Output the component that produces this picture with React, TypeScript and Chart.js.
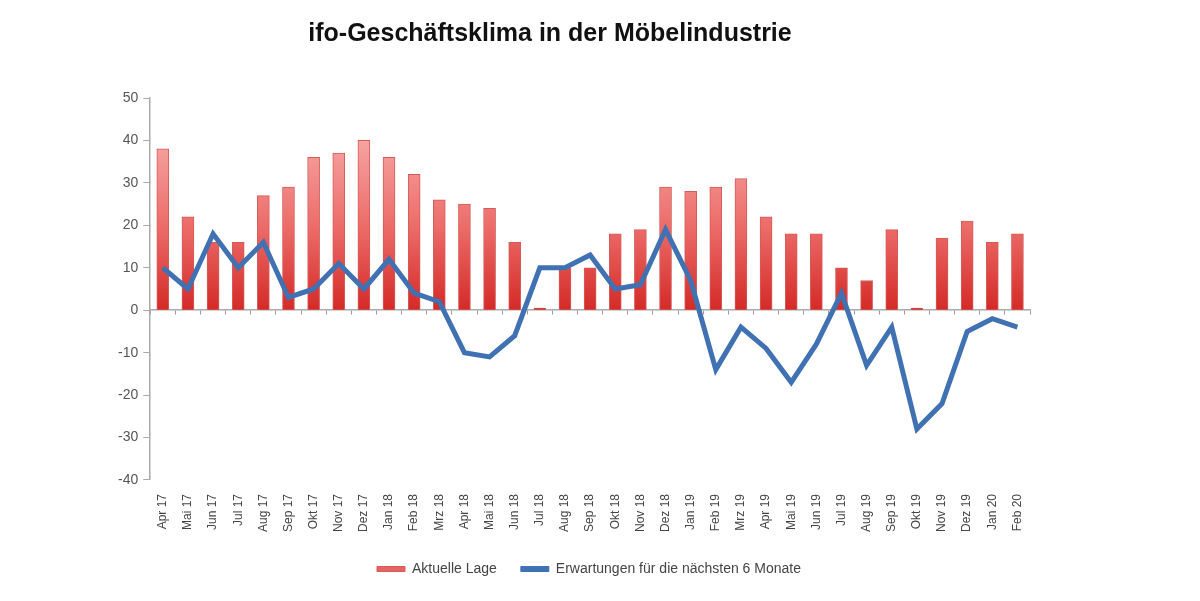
import { useEffect, useRef } from "react"
import { Chart, registerables } from "chart.js"

Chart.register(...registerables)

const months = [
  "Apr 17", "Mai 17", "Jun 17", "Jul 17", "Aug 17", "Sep 17", "Okt 17", "Nov 17", "Dez 17",
  "Jan 18", "Feb 18", "Mrz 18", "Apr 18", "Mai 18", "Jun 18", "Jul 18", "Aug 18", "Sep 18",
  "Okt 18", "Nov 18", "Dez 18", "Jan 19", "Feb 19", "Mrz 19", "Apr 19", "Mai 19", "Jun 19",
  "Jul 19", "Aug 19", "Sep 19", "Okt 19", "Nov 19", "Dez 19", "Jan 20", "Feb 20",
]

const aktuelleLage = [
  38, 22, 16, 16, 27, 29, 36, 37, 40,
  36, 32, 26, 25, 24, 16, 0.5, 10, 10,
  18, 19, 29, 28, 29, 31, 22, 18, 18,
  10, 7, 19, 0.5, 17, 21, 16, 18,
]

const erwartungen = [
  10, 5, 18, 10, 16, 3, 5, 11, 5,
  12, 4, 2, -10, -11, -6, 10, 10, 13,
  5, 6, 19, 7, -14, -4, -9, -17, -8,
  4, -13, -4, -28, -22, -5, -2, -4,
]

const yMin = -40
const yMax = 50
const yStep = 10

const font = "'Liberation Sans', Arial, sans-serif"

export default function App() {
  const chartRef = useRef<HTMLCanvasElement>(null)
  const chartInstance = useRef<Chart | null>(null)

  useEffect(() => {
    document.body.style.margin = "0"
    if (!chartRef.current) return
    if (chartInstance.current) chartInstance.current.destroy()
    const ctx = chartRef.current.getContext("2d")
    if (!ctx) return

    chartInstance.current = new Chart(ctx, {
      data: {
        labels: months,
        datasets: [
          {
            type: "line",
            label: "Erwartungen für die nächsten 6 Monate",
            data: erwartungen,
            borderColor: "#3f71b3",
            backgroundColor: "#3f71b3",
            borderWidth: 5,
            pointRadius: 0,
            tension: 0,
            order: 0,
          },
          {
            type: "bar",
            label: "Aktuelle Lage",
            data: aktuelleLage,
            backgroundColor: (c: any) => {
              const chart = c.chart
              if (!chart.chartArea) return "#e04a47"
              const yScale = chart.scales.y
              const g = chart.ctx.createLinearGradient(0, yScale.getPixelForValue(40), 0, yScale.getPixelForValue(0))
              g.addColorStop(0, "#f5a3a1")
              g.addColorStop(0.5, "#ec6d6a")
              g.addColorStop(1, "#d42a27")
              return g
            },
            borderColor: "#d65b58",
            borderWidth: 1,
            barThickness: 12,
            order: 1,
          },
        ],
      },
      options: {
        animation: false,
        responsive: true,
        maintainAspectRatio: false,
        layout: { padding: { left: 113, right: 135, top: 98, bottom: 15 } },
        scales: {
          x: {
            type: "category",
            offset: true,
            grid: { display: false },
            border: { display: false },
            ticks: {
              minRotation: 90,
              maxRotation: 90,
              autoSkip: false,
              padding: 6,
              color: "#444",
              font: { family: font, size: 12 },
            },
          },
          x2: {
            type: "category",
            labels: months,
            position: { y: 0 },
            offset: true,
            grid: { drawOnChartArea: false, offset: true, tickLength: 4, color: "#999" },
            border: { display: true, color: "#aaa", width: 1.5 },
            ticks: { display: false },
          },
          y: {
            min: yMin,
            max: yMax,
            ticks: {
              stepSize: yStep,
              color: "#555",
              padding: 5,
              font: { family: font, size: 14 },
            },
            grid: { drawOnChartArea: false, tickLength: 7, color: "#aaa" },
            border: { display: true, color: "#aaa", width: 1.5 },
          },
          // empty axis on the right, only reserves room so the legend sits where it should
          yRight: {
            position: "right",
            min: yMin,
            max: yMax,
            grid: { display: false },
            border: { display: false },
            ticks: { display: false },
            afterFit: (axis: any) => {
              axis.width = 35
            },
          },
        },
        plugins: {
          title: { display: false },
          legend: {
            position: "bottom",
            reverse: true,
            labels: {
              color: "#444",
              boxWidth: 28,
              boxHeight: 5,
              padding: 24,
              font: { family: font, size: 14 },
              generateLabels: (chart: Chart) =>
                chart.data.datasets.map((ds: any, i: number) => ({
                  text: ds.label,
                  fillStyle: i === 0 ? "#3f71b3" : "#e56461",
                  strokeStyle: i === 0 ? "#3f71b3" : "#d65b58",
                  lineWidth: 1,
                  hidden: false,
                  datasetIndex: i,
                  fontColor: "#444",
                })),
            },
          },
          tooltip: { enabled: false },
        },
      },
    } as any)

    return () => {
      if (chartInstance.current) {
        chartInstance.current.destroy()
        chartInstance.current = null
      }
    }
  }, [])

  return (
    <div style={{ position: "relative", width: 1200, height: 601, background: "#fff" }}>
      <canvas ref={chartRef} />
      <div
        style={{
          position: "absolute",
          top: 18,
          left: 0,
          width: 1100,
          textAlign: "center",
          fontFamily: font,
          fontWeight: "bold",
          fontSize: 25,
          color: "#111",
          pointerEvents: "none",
        }}
      >
        ifo-Geschäftsklima in der Möbelindustrie
      </div>
    </div>
  )
}
